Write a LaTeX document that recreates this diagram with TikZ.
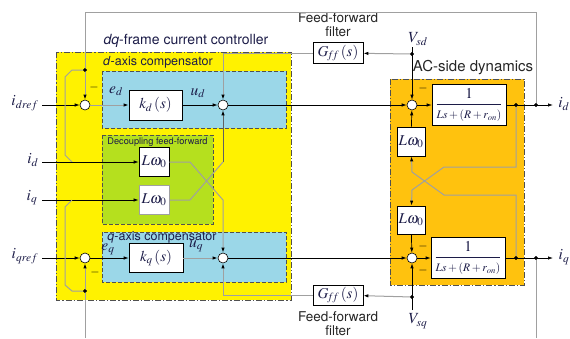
\documentclass[tikz,border=0pt]{standalone}
\usepackage{mathptmx}
\usepackage{fontspec}
\setmainfont{TeX Gyre Heros}
\usetikzlibrary{arrows.meta}
\definecolor{ylw}{HTML}{FFF200}
\definecolor{blu}{HTML}{9BD7E8}
\definecolor{grn}{HTML}{B5E01E}
\definecolor{org}{HTML}{FFC20E}
\definecolor{lgray}{HTML}{A0A0A0}
\definecolor{dgray}{HTML}{606060}
\definecolor{edge}{HTML}{505050}
\definecolor{ink}{HTML}{1C1C48}
\begin{document}
\begin{tikzpicture}[x=1pt,y=-1pt,
  blk/.style={draw=black, fill=white, line width=0.6pt, inner sep=0pt, text=ink, font=\fontsize{15}{17}\selectfont},
  gblk/.style={blk, draw=lgray, line width=0.8pt},
  sumc/.style={circle, draw=black, fill=white, minimum size=10pt, inner sep=0pt, line width=0.6pt},
  dotn/.style={circle, fill=black, minimum size=3.6pt, inner sep=0pt},
  sig/.style={line width=0.7pt, -{Latex[length=5pt,width=3.4pt]}},
  gsig/.style={draw=lgray, line width=1pt, -{Latex[length=5pt,width=3.4pt,color=black]}},
  dsig/.style={draw=dgray, line width=0.9pt, -{Latex[length=5pt,width=3.4pt,color=black]}},
  gline/.style={draw=lgray, line width=1pt},
  mlab/.style={font=\fontsize{15.5}{17}\selectfont, inner sep=0pt, text=ink},
  tlab/.style={font=\fontsize{13.5}{15}\selectfont, inner sep=0pt, text=black!85},
  clab/.style={font=\fontsize{12.5}{14}\selectfont, inner sep=0pt, text=ink},
  minus/.style={font=\fontsize{12}{14}\selectfont, inner sep=0pt},
  outerbox/.style={draw=edge, line width=0.8pt, dash pattern=on 6pt off 2pt on 1.2pt off 2pt},
  innerbox/.style={draw=edge, line width=0.8pt, dash pattern=on 4pt off 2pt}
]
\useasboundingbox (0,0) rectangle (570,338);
\fill[white] (0,0) rectangle (570,338);

% background regions
\filldraw[fill=ylw, outerbox] (56,52) rectangle (291,300);
\filldraw[fill=blu, innerbox] (102,71) rectangle (286,128);
\filldraw[fill=grn, innerbox] (102,135) rectangle (213,224);
\filldraw[fill=blu, innerbox] (102,232) rectangle (286,282);
\filldraw[fill=org, outerbox] (390,79) rectangle (524,285);

% titles
\node[tlab, text=ink, font=\fontsize{14}{16}\selectfont] (ttl) at (186,41) {\textit{dq}-frame current controller};
\node[clab] (dcomp) at (158,62) {\textit{d}-axis compensator};
\node[clab] (qcomp) at (162,237) {\textit{q}-axis compensator};
\node[clab, font=\fontsize{9.2}{10}\selectfont] (dec) at (157.5,142) {Decoupling feed-forward};
\node[tlab, font=\fontsize{15}{17}\selectfont] (acs) at (473,68) {AC-side dynamics};
\node[tlab] (fft1) at (338,18) {Feed-forward};
\node[tlab] (fft2) at (338,32) {filter};
\node[tlab] (ffb1) at (338,317) {Feed-forward};
\node[tlab] (ffb2) at (338,331) {filter};

% summing junctions
\node[sumc] (d1) at (85,105) {};
\node[sumc] (d2) at (223,105) {};
\node[sumc] (q1) at (85,258) {};
\node[sumc] (q2) at (223,258) {};
\node[sumc] (acd) at (412,105) {};
\node[sumc] (acq) at (412,258) {};

% blocks
\node[blk, minimum width=53pt, minimum height=30pt] (kd) at (155.5,105) {$k_d\,(s)$};
\node[blk, minimum width=54pt, minimum height=29pt] (kq) at (156,258) {$k_q\,(s)$};
\node[blk, minimum width=30pt, minimum height=29pt] (lw1) at (154,162) {$L\omega_0$};
\node[gblk, minimum width=30pt, minimum height=29pt] (lw2) at (154,200) {$L\omega_0$};
\node[blk, minimum width=50pt, minimum height=21pt] (gffd) at (338,53) {$G_{\!f\!f}\,(s)$};
\node[blk, minimum width=50pt, minimum height=20pt] (gffq) at (338,295) {$G_{\!f\!f}\,(s)$};
\node[blk, minimum width=74pt, minimum height=41pt] (tfd) at (469,105) {$\displaystyle\frac{1}{\mbox{\fontsize{11.5}{13}\selectfont$Ls+(R+r_{on})$}}$};
\node[blk, minimum width=74pt, minimum height=41pt] (tfq) at (468,258) {$\displaystyle\frac{1}{\mbox{\fontsize{11.5}{13}\selectfont$Ls+(R+r_{on})$}}$};
\node[blk, minimum width=28pt, minimum height=29pt] (lwa1) at (411,141.5) {$L\omega_0$};
\node[blk, minimum width=28pt, minimum height=28pt] (lwa2) at (411,220) {$L\omega_0$};

% coordinates for free ends
\coordinate (idrefS) at (42,105);
\coordinate (idinS) at (42,162);
\coordinate (iqinS) at (42,200);
\coordinate (iqrefS) at (42,258);
\coordinate (idend) at (553,105);
\coordinate (iqend) at (553,258);
\coordinate (vsdtop) at (412,47);
\coordinate (vsqbot) at (412,310);
\coordinate (tl) at (85,12);
\coordinate (botl) at (85,338);
\coordinate (botr) at (536,338);

% dots
\node[dotn] (vsddot) at (412,54) {};
\node[dotn] (vsqdot) at (412,297) {};
\node[dotn] (iddot1) at (516,105) {};
\node[dotn] (iddot2) at (536,105) {};
\node[dotn] (iqdot1) at (516,258) {};
\node[dotn] (iqdot2) at (536,258) {};
\node[dotn] (fbd) at (85,70) {};
\node[dotn] (fbq) at (85,291) {};

% d-axis path
\draw[sig] (idrefS) -- (d1);
\draw[gsig] (d1) -- (kd);
\draw[sig] (kd) -- (d2);
\draw[sig] (d2) -- (acd);
\draw[sig] (acd) -- (tfd);
\draw[sig] (tfd) -- (idend);
\draw[sig] (vsdtop) -- (acd);
\draw[gsig] (vsddot) -- (gffd);
\draw[gsig] (gffd) -| (d2);
\draw[sig] (lwa1) -- (acd);
\draw[gsig] (iddot2) |- (tl) -- (d1);
\draw[gline] (fbd) -- (72,70) -- (65,77) -- (65,155) -- (72,162);

% decoupling
\draw[sig] (idinS) -- (lw1);
\draw[sig] (iqinS) -- (lw2);
\draw[gsig] (lw1) -- (190,162) -- (223,200) -- (q2);
\draw[gline] (lw2) -- (190,200) -- (223,162);
\draw[dsig] (223,162) -- (d2);

% q-axis path
\draw[sig] (iqrefS) -- (q1);
\draw[sig] (q1) -- (kq);
\draw[gsig] (kq) -- (q2);
\draw[sig] (q2) -- (acq);
\draw[sig] (acq) -- (tfq);
\draw[sig] (tfq) -- (iqend);
\draw[sig] (vsqbot) -- (acq);
\draw[gsig] (vsqdot) -- (gffq);
\draw[gsig] (gffq) -| (q2);
\draw[sig] (lwa2) -- (acq);
\draw[gsig] (botl) -- (q1);
\draw[gline] (fbq) -- (72,291) -- (65,285) -- (65,207) -- (72,200);
\draw[gline] (iqdot2) -- (botr);

% AC-side cross coupling
\draw[gsig] (iddot1) -- (516,167) -- (444,167) -- (412,190) -- (lwa2);
\draw[gsig] (iqdot1) -- (516,195) -- (444,195) -- (412,172) -- (lwa1);

% redraw dots on top
\foreach \p in {vsddot,vsqdot,iddot1,iddot2,iqdot1,iqdot2,fbd,fbq}
  \fill (\p) circle (1.8pt);

% signal labels
\node[mlab] (lidref) at (25,103) {$i_{dref}$};
\node[mlab] (lid) at (33,160) {$i_d$};
\node[mlab] (liq) at (32,198) {$i_q$};
\node[mlab] (liqref) at (25,256) {$i_{qref}$};
\node[mlab] (led) at (116,91) {$e_d$};
\node[mlab] (lud) at (198,93) {$u_d$};
\node[mlab] (leq) at (108,249) {$e_q$};
\node[mlab] (luq) at (196,246) {$u_q$};
\node[mlab] (lvsd) at (418,39) {$V_{sd}$};
\node[mlab] (lvsq) at (418,321) {$V_{sq}$};
\node[mlab] (lido) at (564,104) {$i_d$};
\node[mlab] (liqo) at (564,257) {$i_q$};

% minus signs
\node[minus] (m1) at (94,87) {$-$};
\node[minus] (m2) at (95,272) {$-$};
\node[minus] (m3) at (423,88) {$-$};
\node[minus] (m4) at (423,246) {$-$};
\node[minus] (m5) at (423,270) {$-$};
\end{tikzpicture}
\end{document}
